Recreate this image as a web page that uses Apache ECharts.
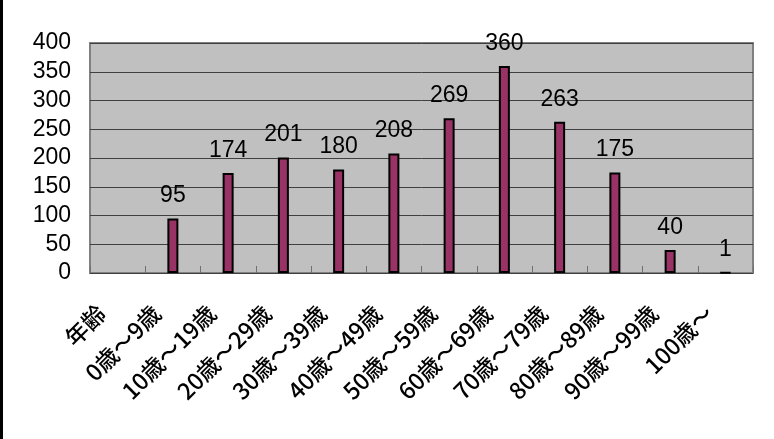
<!DOCTYPE html>
<html>
<head>
<meta charset="utf-8">
<script src="https://cdn.jsdelivr.net/npm/echarts@6/dist/echarts.min.js"></script>
<style>
html,body{margin:0;padding:0;background:#fff;}
#chart{width:774px;height:439px;}
</style>
</head>
<body>
<div id="chart"></div>
<script>
const categories = ['年齢','0歳～9歳','10歳～19歳','20歳～29歳','30歳～39歳','40歳～49歳','50歳～59歳','60歳～69歳','70歳～79歳','80歳～89歳','90歳～99歳','100歳～'];
const values = [null,95,174,201,180,208,269,360,263,175,40,1];
const yTicks = {min:0, max:400, interval:50};

const chart = echarts.init(document.getElementById('chart'));
chart.setOption({
  animation:false,
  backgroundColor:'#ffffff',
  graphic:[{type:'rect',left:0,top:0,shape:{width:3,height:439},style:{fill:'#000'}}],
  grid:{left:90,right:21,top:43,bottom:166,show:true,backgroundColor:'#c0c0c0',borderColor:'#808080',borderWidth:2},
  xAxis:{
    type:'category',
    data:categories,
    axisLine:{show:false},
    axisTick:{show:true,inside:true,length:7,lineStyle:{color:'#707070',width:1}},
    axisLabel:{
      interval:0,rotate:45,margin:20,
      fontFamily:'"Noto Sans CJK JP", sans-serif',fontSize:23,fontWeight:500,color:'#000',
      padding:[0,23,0,0]
    }
  },
  yAxis:{
    type:'value',
    min:yTicks.min,max:yTicks.max,interval:yTicks.interval,
    axisLine:{show:false},
    axisTick:{show:false},
    axisLabel:{margin:19,fontFamily:'"Liberation Sans", Arial, sans-serif',fontSize:23,color:'#000'},
    splitLine:{show:true,lineStyle:{color:'#404040',width:1}}
  },
  series:[{
    type:'bar',
    data:values,
    barWidth:11,
    itemStyle:{color:'#993366',borderColor:'#000',borderWidth:2},
    label:{show:true,position:'top',distance:11,fontFamily:'"Liberation Sans", Arial, sans-serif',fontSize:23,color:'#000'}
  }]
});
</script>
</body>
</html>
